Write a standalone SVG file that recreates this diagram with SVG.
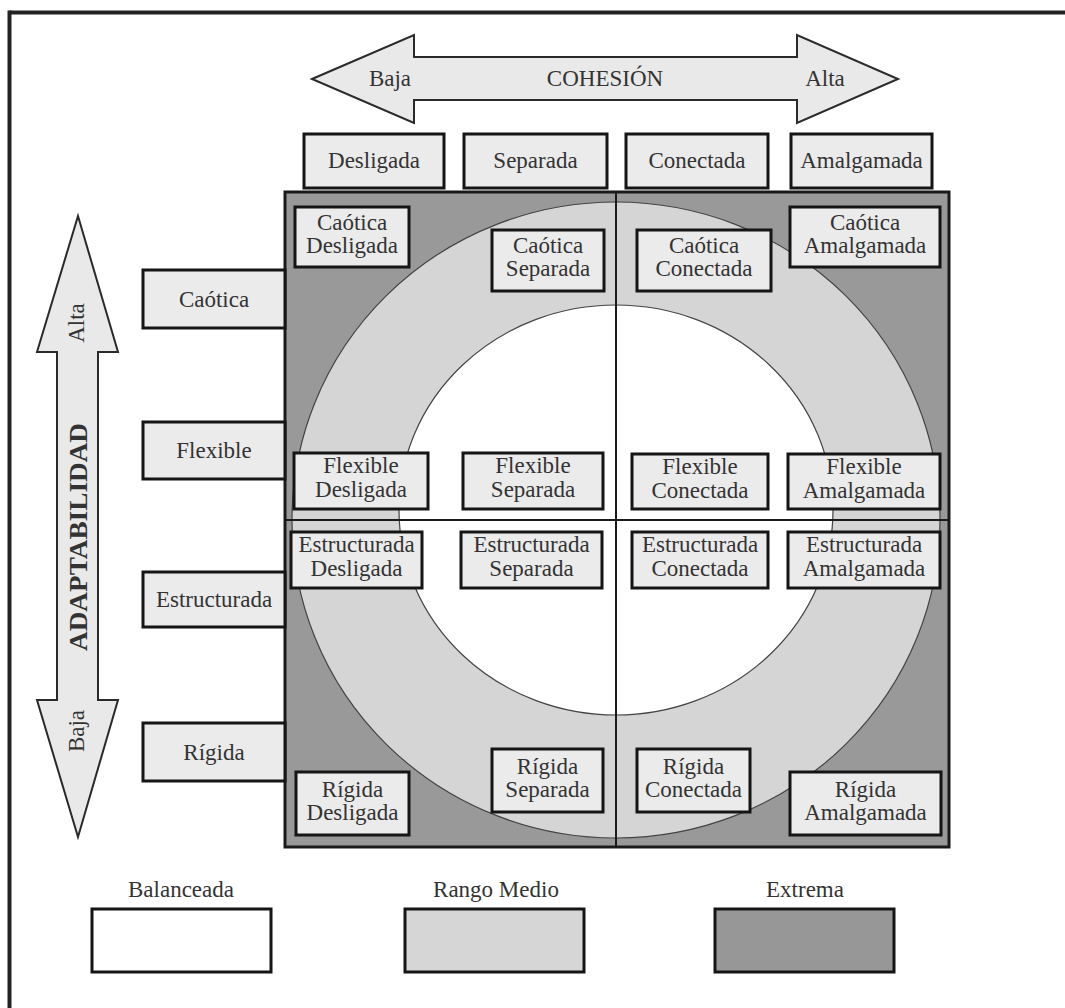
<svg xmlns="http://www.w3.org/2000/svg" width="1065" height="1008" viewBox="0 0 1065 1008">
<style>
text{font-family:"Liberation Serif","Times New Roman",serif;fill:#333;font-size:23px;text-anchor:middle}
.box{fill:#ebebeb;stroke:#151515;stroke-width:3}
.arrow{fill:#e9e9e9;stroke:#2a2a2a;stroke-width:2}
.frame{stroke:#222;stroke-width:4;fill:none}
.mid{stroke:#1a1a1a;stroke-width:2}
.ring{stroke:#444;stroke-width:1.2}
</style>
<g id="frame">
<line class="frame" x1="9.5" y1="12.5" x2="1065" y2="12.5"/>
<line class="frame" x1="9.5" y1="10.5" x2="9.5" y2="1008"/>
</g>
<g id="cohesion-arrow">
<polygon class="arrow" points="312,79 414,35 414,57 797,57 797,35 898,79 797,123 797,100 414,100 414,123"/>
<text x="390" y="86">Baja</text>
<text x="605" y="86">COHESIÓN</text>
<text x="825" y="86">Alta</text>
</g>
<g id="adaptabilidad-arrow">
<polygon class="arrow" points="78,216 118,352 98,352 98,700 118,700 78,837 37,700 57,700 57,352 37,352"/>
<text transform="translate(84,323) rotate(-90)">Alta</text>
<text transform="translate(87,537) rotate(-90)" style="font-weight:bold;font-size:26px" textLength="228" lengthAdjust="spacingAndGlyphs">ADAPTABILIDAD</text>
<text transform="translate(84,731) rotate(-90)">Baja</text>
</g>
<g id="grid">
<rect x="285" y="192" width="664" height="655" fill="#999999"/>
<ellipse class="ring" cx="616" cy="520" rx="324" ry="318" fill="#d5d5d5"/>
<ellipse class="ring" cx="616" cy="510" rx="217" ry="205" fill="#ffffff"/>
<line class="mid" x1="616" y1="192" x2="616" y2="847"/>
<line class="mid" x1="285" y1="520" x2="949" y2="520"/>
<rect x="285" y="192" width="664" height="655" fill="none" stroke="#1a1a1a" stroke-width="3"/>
</g>
<g id="col-headers">
<g id="h-desligada"><rect class="box" x="304" y="134" width="140" height="54"/><text x="374" y="168">Desligada</text></g>
<g id="h-separada"><rect class="box" x="464" y="134" width="143" height="54"/><text x="535.5" y="168">Separada</text></g>
<g id="h-conectada"><rect class="box" x="626" y="134" width="142" height="54"/><text x="697" y="168">Conectada</text></g>
<g id="h-amalgamada"><rect class="box" x="791" y="134" width="141" height="54"/><text x="861.5" y="168">Amalgamada</text></g>
</g>
<g id="row-headers">
<g id="r-caotica"><rect class="box" x="143" y="270" width="142" height="58"/><text x="214" y="307">Caótica</text></g>
<g id="r-flexible"><rect class="box" x="143" y="422" width="142" height="57"/><text x="214" y="458">Flexible</text></g>
<g id="r-estructurada"><rect class="box" x="143" y="572" width="142" height="55"/><text x="214" y="607">Estructurada</text></g>
<g id="r-rigida"><rect class="box" x="143" y="723" width="142" height="58"/><text x="214" y="760">Rígida</text></g>
</g>
<g id="cells">
<g id="c-caotica-desligada"><rect class="box" x="295" y="207" width="114" height="60"/><text x="352" y="230">Caótica</text><text x="352" y="253">Desligada</text></g>
<g id="c-caotica-separada"><rect class="box" x="492" y="230" width="112" height="61"/><text x="548" y="253">Caótica</text><text x="548" y="276">Separada</text></g>
<g id="c-caotica-conectada"><rect class="box" x="637" y="230" width="134" height="61"/><text x="704" y="253">Caótica</text><text x="704" y="276">Conectada</text></g>
<g id="c-caotica-amalgamada"><rect class="box" x="790" y="207" width="150" height="60"/><text x="865" y="230">Caótica</text><text x="865" y="253">Amalgamada</text></g>

<g id="c-flexible-desligada"><rect class="box" x="294" y="453" width="134" height="56"/><text x="361" y="473">Flexible</text><text x="361" y="497">Desligada</text></g>
<g id="c-flexible-separada"><rect class="box" x="463" y="453" width="140" height="56"/><text x="533" y="473">Flexible</text><text x="533" y="497">Separada</text></g>
<g id="c-flexible-conectada"><rect class="box" x="632" y="454" width="136" height="55"/><text x="700" y="474">Flexible</text><text x="700" y="498">Conectada</text></g>
<g id="c-flexible-amalgamada"><rect class="box" x="788" y="454" width="152" height="55"/><text x="864" y="474">Flexible</text><text x="864" y="498">Amalgamada</text></g>

<g id="c-estructurada-desligada"><rect class="box" x="291" y="532" width="131" height="56"/><text x="356.5" y="552">Estructurada</text><text x="356.5" y="576">Desligada</text></g>
<g id="c-estructurada-separada"><rect class="box" x="461" y="532" width="141" height="56"/><text x="531.5" y="552">Estructurada</text><text x="531.5" y="576">Separada</text></g>
<g id="c-estructurada-conectada"><rect class="box" x="632" y="532" width="136" height="56"/><text x="700" y="552">Estructurada</text><text x="700" y="576">Conectada</text></g>
<g id="c-estructurada-amalgamada"><rect class="box" x="788" y="532" width="152" height="56"/><text x="864" y="552">Estructurada</text><text x="864" y="576">Amalgamada</text></g>

<g id="c-rigida-desligada"><rect class="box" x="296" y="772" width="113" height="63"/><text x="352.5" y="797">Rígida</text><text x="352.5" y="820">Desligada</text></g>
<g id="c-rigida-separada"><rect class="box" x="492" y="749" width="111" height="63"/><text x="547.5" y="774">Rígida</text><text x="547.5" y="797">Separada</text></g>
<g id="c-rigida-conectada"><rect class="box" x="637" y="749" width="113" height="63"/><text x="693.5" y="774">Rígida</text><text x="693.5" y="797">Conectada</text></g>
<g id="c-rigida-amalgamada"><rect class="box" x="790" y="772" width="151" height="63"/><text x="865.5" y="797">Rígida</text><text x="865.5" y="820">Amalgamada</text></g>
</g>
<g id="legend">
<g id="l-balanceada"><text x="181" y="897">Balanceada</text><rect x="92" y="909" width="179" height="63" fill="#ffffff" stroke="#151515" stroke-width="3"/></g>
<g id="l-rango"><text x="496" y="897">Rango Medio</text><rect x="405" y="909" width="179" height="63" fill="#d6d6d6" stroke="#151515" stroke-width="3"/></g>
<g id="l-extrema"><text x="805" y="897">Extrema</text><rect x="715" y="909" width="179" height="63" fill="#979797" stroke="#151515" stroke-width="3"/></g>
</g>
<g id="connectors"></g>
</svg>
